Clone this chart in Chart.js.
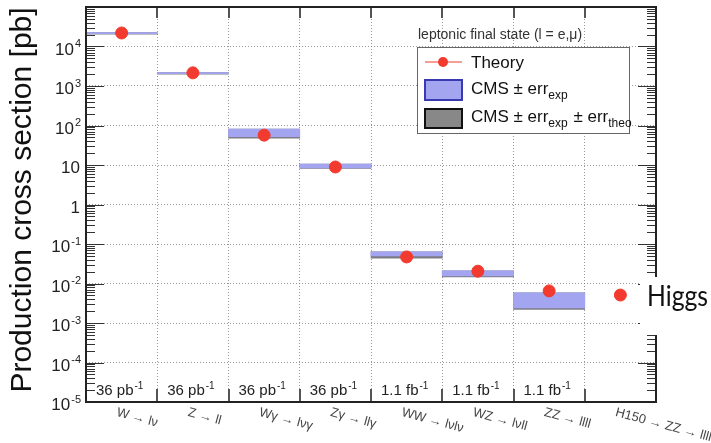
<!DOCTYPE html>
<html>
<head>
<meta charset="utf-8">
<script src="https://cdn.jsdelivr.net/npm/chart.js@4.4.0/dist/chart.umd.min.js"></script>
<style>
  html, body { margin: 0; padding: 0; background: #fff; }
  #wrap { width: 711px; height: 443px; position: relative; }
</style>
</head>
<body>
<div id="wrap"><canvas id="xsec-chart"></canvas></div>
<script>
// process bins, left to right
var processes = ['W → lν', 'Z → ll', 'Wγ → lνγ', 'Zγ → llγ', 'WW → lνlν', 'WZ → lνll', 'ZZ → llll', 'H150 → ZZ → llll'];
var lumiLabels = ['36 pb', '36 pb', '36 pb', '36 pb', '1.1 fb', '1.1 fb', '1.1 fb', ''];

// cross sections in pb
var theory = [2.2e4, 2150, 57, 8.9, 0.047, 0.0205, 0.0065, 0.0051];
var cmsExp = [[2.1e4, 2.25e4], [2.05e3, 2.2e3], [52, 81], [8.4, 10.6], [0.05, 0.063], [0.0156, 0.0208], [0.0024, 0.0058], null];
var cmsExpTheo = [[2.05e4, 2.25e4], [1.98e3, 2.2e3], [48, 81], [8.2, 10.6], [0.044, 0.063], [0.0146, 0.0208], [0.0022, 0.0058], null];

// y axis decades
var yTickValues = [1e-5, 1e-4, 1e-3, 1e-2, 1e-1, 1, 10, 1e2, 1e3, 1e4];
var yTickBase = ['10', '10', '10', '10', '10', '1', '10', '10', '10', '10'];
var yTickExp = ['-5', '-4', '-3', '-2', '-1', '', '', '2', '3', '4'];

var FONT = '"Liberation Sans", Arial, sans-serif';
var BLUE = '#a3a5f1';
var GREY = '#7c7c86';
var RED = '#f23a2e';

function supText(ctx, x, y, base, sup, size, supSize, align) {
  ctx.font = size + 'px ' + FONT;
  var wb = ctx.measureText(base).width;
  ctx.font = supSize + 'px ' + FONT;
  var ws = sup ? ctx.measureText(sup).width : 0;
  var x0 = align === 'right' ? x - wb - ws : x;
  ctx.textAlign = 'left';
  ctx.textBaseline = 'alphabetic';
  ctx.font = size + 'px ' + FONT;
  ctx.fillText(base, x0, y);
  if (sup) {
    ctx.font = supSize + 'px ' + FONT;
    ctx.fillText(sup, x0 + wb + 1, y - size * 0.42);
  }
}

function subText(ctx, x, y, parts, size, subSize) {
  // parts: [text, isSub]
  ctx.textAlign = 'left';
  ctx.textBaseline = 'alphabetic';
  parts.forEach(function (p) {
    ctx.font = (p[1] ? subSize : size) + 'px ' + FONT;
    ctx.fillText(p[0], x, p[1] ? y + 5 : y);
    x += ctx.measureText(p[0]).width + (p[1] ? 1 : 0);
  });
}

var decorations = {
  id: 'decorations',
  afterDraw: function (chart) {
    var ctx = chart.ctx;
    var a = chart.chartArea;
    var xs = chart.scales.x;
    var ys = chart.scales.y;
    ctx.save();

    // minor / major ticks on left and right axes
    ctx.strokeStyle = '#333';
    ctx.lineWidth = 1;
    ctx.beginPath();
    for (var d = -5; d < 5; d++) {
      for (var k = 1; k <= 9; k++) {
        var py = Math.round(ys.getPixelForValue(k * Math.pow(10, d))) + 0.5;
        var len = k === 1 ? 18 : 9;
        ctx.moveTo(a.left, py); ctx.lineTo(a.left + len, py);
        ctx.moveTo(a.right, py); ctx.lineTo(a.right - len, py);
      }
    }
    ctx.stroke();

    // bin-edge ticks on top and bottom
    ctx.strokeStyle = '#555';
    ctx.lineWidth = 2;
    ctx.beginPath();
    var bw = (a.right - a.left) / processes.length;
    for (var i = 1; i < processes.length; i++) {
      var px = Math.round(a.left + i * bw);
      ctx.moveTo(px, a.top); ctx.lineTo(px, a.top + 11);
      ctx.moveTo(px, a.bottom); ctx.lineTo(px, a.bottom - 13);
    }
    ctx.stroke();

    // frame
    ctx.strokeStyle = '#222';
    ctx.lineWidth = 2;
    ctx.strokeRect(a.left, a.top, a.right - a.left, a.bottom - a.top);

    // y tick labels
    ctx.fillStyle = '#222';
    yTickValues.forEach(function (v, j) {
      var py = ys.getPixelForValue(v);
      supText(ctx, 80, py + 8, yTickBase[j], yTickExp[j], 17, 11, 'right');
    });

    // y title
    ctx.save();
    ctx.translate(31, 200);
    ctx.rotate(-Math.PI / 2);
    ctx.font = '30px ' + FONT;
    ctx.textAlign = 'center';
    ctx.textBaseline = 'alphabetic';
    ctx.fillStyle = '#111';
    ctx.fillText('Production cross section [pb]', 0, 0);
    ctx.restore();

    // luminosity labels inside plot
    ctx.fillStyle = '#222';
    lumiLabels.forEach(function (t, j) {
      if (!t) return;
      supText(ctx, a.left + j * bw + 10, a.bottom - 7, t, '-1', 15, 10, 'left');
    });

    // slanted process labels
    ctx.fillStyle = '#444';
    processes.forEach(function (t, j) {
      var cx = xs.getPixelForValue(j);
      ctx.save();
      ctx.translate(cx - 3, a.bottom + 4);
      ctx.rotate(15 * Math.PI / 180);
      ctx.font = '13px ' + FONT;
      ctx.textAlign = 'left';
      ctx.textBaseline = 'top';
      ctx.fillText(t, 0, 0);
      ctx.restore();
    });

    // legend
    ctx.fillStyle = '#333';
    ctx.font = '14px ' + FONT;
    ctx.textAlign = 'left';
    ctx.textBaseline = 'middle';
    ctx.fillText('leptonic final state (l = e,μ)', 418, 35);
    ctx.fillStyle = '#fff';
    ctx.fillRect(417, 47, 212, 86);
    ctx.strokeStyle = '#666';
    ctx.lineWidth = 1;
    ctx.strokeRect(417.5, 47.5, 212, 86);

    ctx.strokeStyle = RED;
    ctx.lineWidth = 1;
    ctx.beginPath(); ctx.moveTo(425, 62); ctx.lineTo(462, 62); ctx.stroke();
    ctx.fillStyle = RED;
    ctx.beginPath(); ctx.arc(443, 62, 5, 0, Math.PI * 2); ctx.fill();

    ctx.fillStyle = BLUE;
    ctx.fillRect(425, 80, 37, 20);
    ctx.strokeStyle = '#3a3ab0';
    ctx.lineWidth = 2;
    ctx.strokeRect(425, 80, 37, 20);

    ctx.fillStyle = '#888';
    ctx.fillRect(425, 109, 37, 19);
    ctx.strokeStyle = '#111';
    ctx.strokeRect(425, 109, 37, 19);

    ctx.fillStyle = '#111';
    subText(ctx, 471, 68, [['Theory', false]], 17, 12);
    subText(ctx, 471, 94, [['CMS ± err', false], ['exp', true]], 17, 12);
    subText(ctx, 471, 122, [['CMS ± err', false], ['exp', true], [' ± err', false], ['theo', true]], 17, 12);

    // Higgs annotation over the right edge
    ctx.fillStyle = '#fff';
    ctx.fillRect(640, 277, 71, 58);
    ctx.save();
    ctx.font = '29px Lato, "DejaVu Sans", sans-serif';
    var hw = ctx.measureText('Higgs').width;
    ctx.translate(647, 306);
    ctx.scale(Math.min(1, 61 / hw), 1);
    ctx.fillStyle = '#111';
    ctx.textAlign = 'left';
    ctx.textBaseline = 'alphabetic';
    ctx.fillText('Higgs', 0, 0);
    ctx.restore();

    ctx.restore();
  }
};

new Chart('xsec-chart', {
  type: 'bar',
  data: {
    labels: processes,
    datasets: [
      {
        type: 'line',
        label: 'Theory',
        data: theory,
        showLine: false,
        pointRadius: 6,
        pointHoverRadius: 6,
        pointBackgroundColor: RED,
        pointBorderColor: RED,
        order: 1
      },
      {
        label: 'CMS ± err exp',
        data: cmsExp,
        backgroundColor: BLUE,
        borderWidth: 0,
        grouped: false,
        barPercentage: 1,
        categoryPercentage: 1,
        order: 2
      },
      {
        label: 'CMS ± err exp ± err theo',
        data: cmsExpTheo,
        backgroundColor: GREY,
        borderWidth: 0,
        grouped: false,
        barPercentage: 1,
        categoryPercentage: 1,
        order: 3
      }
    ]
  },
  options: {
    responsive: true,
    maintainAspectRatio: false,
    animation: false,
    layout: { padding: { left: 86, right: 55, top: 7, bottom: 41 } },
    plugins: { legend: { display: false }, tooltip: { enabled: false } },
    scales: {
      x: {
        offset: true,
        grid: { offset: true, drawTicks: false, color: 'rgba(110,110,110,0.7)', lineWidth: 1 },
        border: { display: false, dash: [1, 2] },
        ticks: { display: false },
        afterFit: function (s) { s.height = 0; }
      },
      y: {
        type: 'logarithmic',
        min: 1e-5,
        max: 1e5,
        grid: { drawTicks: false, color: 'rgba(110,110,110,0.7)', lineWidth: 1 },
        border: { display: false, dash: [1, 2] },
        ticks: { display: false },
        afterBuildTicks: function (s) {
          s.ticks = yTickValues.concat([1e5]).map(function (v) { return { value: v }; });
        },
        afterFit: function (s) { s.width = 0; }
      }
    }
  },
  plugins: [decorations]
});
</script>
</body>
</html>
